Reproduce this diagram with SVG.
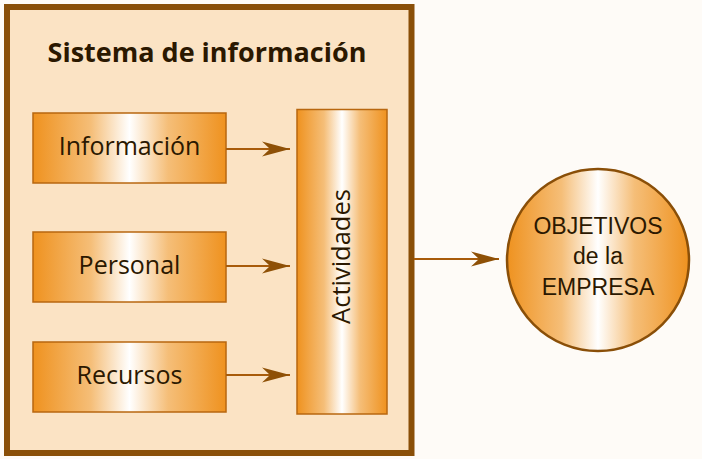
<svg xmlns="http://www.w3.org/2000/svg" width="702" height="459" viewBox="0 0 702 459">
<defs>
<linearGradient id="g" x1="0" y1="0" x2="1" y2="0">
<stop offset="0" stop-color="#EF921F"/>
<stop offset="0.3" stop-color="#F5BE78"/>
<stop offset="0.5" stop-color="#FFFFFF"/>
<stop offset="0.7" stop-color="#F5BE78"/>
<stop offset="1" stop-color="#EF921F"/>
</linearGradient>
<marker id="ah" markerUnits="userSpaceOnUse" markerWidth="30" markerHeight="16" viewBox="-29 -8 30 16" refX="0" refY="0" orient="auto">
<path d="M0,0 L-28,-7.5 L-20,0 L-28,7.5 Z" fill="#8E5006"/>
</marker>
<style>
.box{fill:url(#g);stroke:#B8670F;stroke-width:1.5}
.t{font-family:"Open Sans","Liberation Sans",sans-serif;font-size:25px;fill:#2B1800;text-anchor:middle}
.o{font-family:"Liberation Sans","Open Sans",sans-serif;font-size:23px;fill:#2B1800;text-anchor:middle}
.c{stroke:#A85B0A;stroke-width:2;fill:none;marker-end:url(#ah)}
</style>
</defs>
<rect width="702" height="459" fill="#FEFBF7"/>
<g id="sistema">
<rect x="7" y="7" width="404.5" height="446" fill="#FBE3C4" stroke="#8A4F08" stroke-width="6"/>
<text x="207" y="62" class="t" style="font-weight:bold;font-size:27px">Sistema de información</text>
</g>
<g id="informacion">
<rect class="box" x="33" y="113" width="193" height="70"/>
<text class="t" x="129.5" y="155">Información</text>
</g>
<g id="personal">
<rect class="box" x="33" y="232" width="193" height="70"/>
<text class="t" x="129.5" y="274">Personal</text>
</g>
<g id="recursos">
<rect class="box" x="33" y="342" width="193" height="70"/>
<text class="t" x="129.5" y="384">Recursos</text>
</g>
<g id="actividades">
<rect class="box" x="297" y="109.5" width="90" height="304.5"/>
<text class="t" transform="translate(350,256.5) rotate(-90)" x="0" y="0" style="font-size:25.5px">Actividades</text>
</g>
<g id="objetivos">
<circle cx="598" cy="260" r="91" fill="url(#g)" stroke="#8A4F08" stroke-width="2.5"/>
<text class="o" x="598" y="234">OBJETIVOS</text>
<text class="o" x="598" y="264">de la</text>
<text class="o" x="598" y="295">EMPRESA</text>
</g>
<g id="connectors">
<line class="c" x1="226" y1="149" x2="290" y2="149"/>
<line class="c" x1="226" y1="266" x2="290" y2="266"/>
<line class="c" x1="226" y1="375" x2="290" y2="375"/>
<line class="c" x1="414" y1="259" x2="499" y2="259"/>
</g>
</svg>
